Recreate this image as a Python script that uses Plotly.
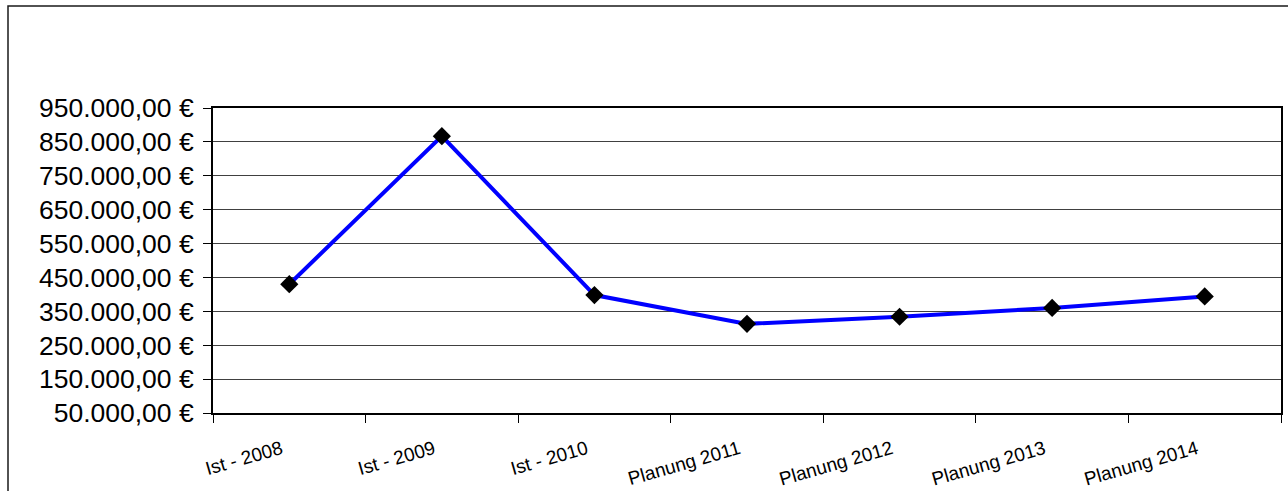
import plotly.graph_objects as go

categories = ["Ist - 2008", "Ist - 2009", "Ist - 2010", "Planung 2011",
              "Planung 2012", "Planung 2013", "Planung 2014"]
values = [430000, 867000, 398000, 313000, 334000, 360000, 394000]
y_tickvals = [50000, 150000, 250000, 350000, 450000, 550000, 650000, 750000, 850000, 950000]
y_ticktext = ["50.000,00 €", "150.000,00 €", "250.000,00 €", "350.000,00 €", "450.000,00 €",
              "550.000,00 €", "650.000,00 €", "750.000,00 €", "850.000,00 €", "950.000,00 €"]

W, H = 1288, 491
L, R, T, B = 213, 7, 108, 78
pw, ph = W - L - R, H - T - B

fig = go.Figure()
fig.add_trace(go.Scatter(
    x=categories, y=values, mode="lines+markers",
    line=dict(color="#0000FF", width=4),
    marker=dict(symbol="diamond", size=14, color="#000000"),
    showlegend=False, cliponaxis=False,
))

def px_x(p):
    return (p - L) / pw

def px_y(p):
    return 1 - (p - T) / ph

fig.add_shape(type="rect", xref="paper", yref="paper",
              x0=px_x(8), x1=px_x(1300), y0=px_y(500), y1=px_y(6),
              line=dict(color="#1a1a1a", width=1.5), fillcolor="rgba(0,0,0,0)", layer="below")

fig.update_layout(
    width=W, height=H,
    margin=dict(l=L, r=R, t=T, b=B, pad=0, autoexpand=False),
    paper_bgcolor="white", plot_bgcolor="white",
    font=dict(family="Liberation Sans, Arial, sans-serif", color="#000000"),
    xaxis=dict(
        type="category", tickson="boundaries", ticks="outside", ticklen=8,
        tickcolor="#000000", tickwidth=1,
        showline=True, linecolor="#000000", linewidth=2, mirror=True,
        showgrid=False, tickangle=-16, tickfont=dict(size=19),
        ticklabelstandoff=16, ticklabelshift=-8, automargin=False,
        range=[-0.5, 6.5], fixedrange=True,
    ),
    yaxis=dict(
        range=[50000, 950000], tickvals=y_tickvals, ticktext=y_ticktext,
        ticks="outside", ticklen=8, tickcolor="#000000", tickwidth=1,
        showline=True, linecolor="#000000", linewidth=2, mirror=True,
        showgrid=True, gridcolor="#404040", gridwidth=1,
        zeroline=False, tickfont=dict(size=26.5), ticklabelstandoff=4,
        automargin=False, fixedrange=True,
    ),
)

fig.write_html("out.html", config={"displayModeBar": False},
               post_script="document.body.style.margin='0';document.body.style.overflow='hidden';")
